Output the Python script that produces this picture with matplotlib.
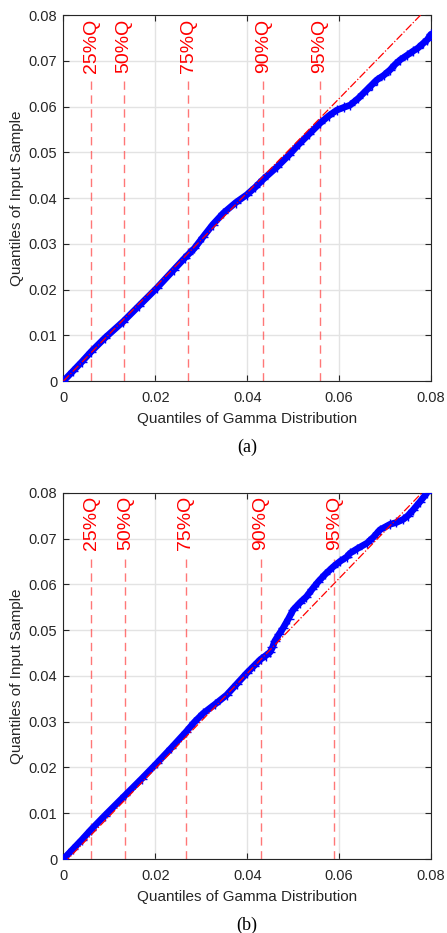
import matplotlib.pyplot as plt

plt.rcParams['font.family'] = ['Liberation Sans', 'DejaVu Sans']

# panel (a): points (gamma quantile, sample quantile)
qa_x = [0.0, 0.002, 0.004, 0.006, 0.009, 0.013, 0.0165, 0.0203, 0.024, 0.0265, 0.0272,
        0.0285, 0.0304, 0.0325, 0.0348, 0.0375, 0.0399, 0.0418, 0.0435, 0.0465, 0.049,
        0.0512, 0.0535, 0.0558, 0.0578, 0.0595, 0.061, 0.0624, 0.0642, 0.066, 0.0672,
        0.0682, 0.0697, 0.0711, 0.0722, 0.0733, 0.0748, 0.0761, 0.0772, 0.0783, 0.0792, 0.08]
qa_y = [0.0, 0.0021, 0.0042, 0.0064, 0.0094, 0.0130, 0.0165, 0.0203, 0.0243, 0.0270, 0.0277,
        0.0290, 0.0315, 0.0342, 0.0367, 0.0390, 0.0407, 0.0424, 0.0441, 0.0468, 0.0493,
        0.0517, 0.0540, 0.0563, 0.0580, 0.0592, 0.0598, 0.0603, 0.0618, 0.0636, 0.0648,
        0.0658, 0.0668, 0.0680, 0.0692, 0.0702, 0.0712, 0.0721, 0.0728, 0.0738, 0.0746, 0.0758]

# panel (b)
qb_x = [0.0, 0.002, 0.004, 0.0059, 0.009, 0.0135, 0.017, 0.0203, 0.0235, 0.0267, 0.0285,
        0.0304, 0.033, 0.0355, 0.0378, 0.0399, 0.0415, 0.0429, 0.044, 0.045, 0.0455, 0.046,
        0.047, 0.0478, 0.049, 0.050, 0.0515, 0.0529, 0.0542, 0.0555, 0.057, 0.0587, 0.0602,
        0.0617, 0.0624, 0.064, 0.0661, 0.0675, 0.0689, 0.0711, 0.0725, 0.074, 0.075, 0.0761,
        0.0776, 0.0791]
qb_y = [0.0, 0.0021, 0.0042, 0.0063, 0.0095, 0.0140, 0.0175, 0.0209, 0.0243, 0.0278, 0.0299,
        0.0318, 0.0338, 0.0358, 0.0383, 0.0406, 0.0422, 0.0436, 0.0444, 0.0452, 0.0462, 0.0476,
        0.0492, 0.0504, 0.0525, 0.0544, 0.0560, 0.0573, 0.0590, 0.0606, 0.0622, 0.0638, 0.0650,
        0.0660, 0.0668, 0.0678, 0.0690, 0.0703, 0.0719, 0.0731, 0.0735, 0.0742, 0.0750, 0.0762,
        0.0780, 0.0799]

# reference (dash-dot) lines, endpoints
ref_a_x = [0.0, 0.08]
ref_a_y = [0.0, 0.0823]
ref_b_x = [0.0, 0.0795]
ref_b_y = [-0.001, 0.0815]

quant_labels = ['25%Q', '50%Q', '75%Q', '90%Q', '95%Q']
quant_a = [0.0060, 0.0131, 0.0272, 0.0435, 0.0558]
quant_b = [0.0060, 0.01346, 0.02667, 0.0429, 0.0590]

xticks = [0, 0.02, 0.04, 0.06, 0.08]
xticklabels = ['0', '0.02', '0.04', '0.06', '0.08']
yticks = [0, 0.01, 0.02, 0.03, 0.04, 0.05, 0.06, 0.07, 0.08]
yticklabels = ['0', '0.01', '0.02', '0.03', '0.04', '0.05', '0.06', '0.07', '0.08']

axisColor = '#262626'


def drawPanel(ax, qx, qy, rx, ry, quants, caption):
    ax.set_xlim(0, 0.08)
    ax.set_ylim(0, 0.08)
    ax.grid(True, color='#e3e3e3', linewidth=1.0)
    ax.set_axisbelow(True)

    for q, lab in zip(quants, quant_labels):
        ax.plot([q, q], [0, 0.0662], color='#ff5555', alpha=0.8, linestyle=(0, (6, 4)), linewidth=1.0, zorder=2)
        ax.text(q, 0.0674, lab, rotation=90, ha='center', va='bottom', color='red', fontsize=14)

    ax.plot(qx, qy, color='blue', linewidth=4.8, solid_capstyle='round', zorder=3)
    ax.plot(qx, qy, '+', color='blue', markersize=7, markeredgewidth=1.0, zorder=3)
    ax.plot(rx, ry, color='red', linestyle='-.', linewidth=0.9, zorder=4)

    ax.set_xticks(xticks)
    ax.set_xticklabels(xticklabels)
    ax.set_yticks(yticks)
    ax.set_yticklabels(yticklabels)
    ax.tick_params(direction='in', top=True, right=True, length=4, width=0.8,
                   colors=axisColor, labelsize=10.5)
    ax.tick_params(axis='x', pad=7.5)
    ax.tick_params(axis='y', pad=4.5)
    for s in ax.spines.values():
        s.set_color(axisColor)
        s.set_linewidth(0.8)

    ax.set_xlabel('Quantiles of Gamma Distribution', fontsize=11, color=axisColor, labelpad=5)
    ax.set_ylabel('Quantiles of Input Sample', fontsize=11, color=axisColor, labelpad=3)
    ax.text(0.5, -0.18, caption, transform=ax.transAxes, ha='center', va='center',
            fontsize=13, family=['Liberation Serif'], color='black')


fig = plt.figure(figsize=(4.47, 9.33), dpi=100)
axA = fig.add_axes([0.142, 0.5916, 0.822, 0.3923])
axB = fig.add_axes([0.142, 0.0793, 0.822, 0.3926])

drawPanel(axA, qa_x, qa_y, ref_a_x, ref_a_y, quant_a, '(a)')
drawPanel(axB, qb_x, qb_y, ref_b_x, ref_b_y, quant_b, '(b)')

fig.savefig('out.png', dpi=100)
